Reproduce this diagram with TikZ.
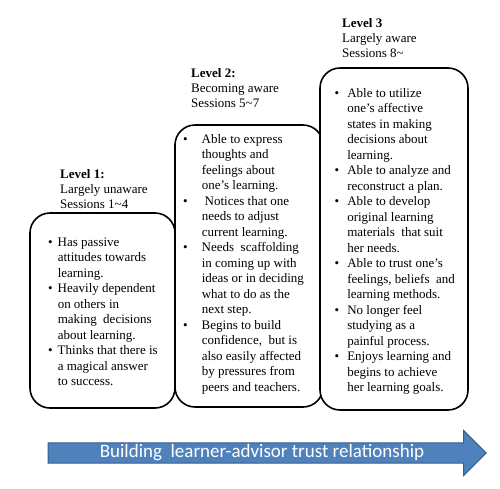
\documentclass[tikz,border=0pt]{standalone}
\usepackage{fontspec}
\setmainfont{Liberation Serif}
\newfontfamily\calibri{Carlito}
\usetikzlibrary{positioning,shapes.arrows}

\definecolor{arrowblue}{HTML}{4F81BD}
\definecolor{arrowline}{HTML}{385D8A}
\newcommand{\lvfont}{\fontsize{13}{15.5}\selectfont}

\begin{document}
\begin{tikzpicture}[x=1pt,y=-1pt,
    lvbox/.style={draw,line width=1.6pt,rounded corners=20pt,fill=white,inner sep=0pt},
    lvtitle/.style={anchor=north west,align=left,inner sep=0pt,font=\fontsize{13}{15}\selectfont},
    lvlist/.style={anchor=north west,inner sep=0pt,font=\lvfont},
    trustarrow/.style={single arrow,draw=arrowline,fill=arrowblue,line width=1pt,
      minimum height=438pt,minimum width=45pt,single arrow head extend=11.5pt,
      inner sep=1pt,text height=12pt,text depth=4pt,text=white,
      font=\calibri\fontsize{19}{22}\selectfont}]

  \useasboundingbox (0,0) rectangle (500,488);

  % the three levels
  \node[lvbox,minimum width=145pt,minimum height=195pt] (box1) at (102.5,310.5) {};
  \node[lvbox,minimum width=148pt,minimum height=282pt] (box2) at (249,266) {};
  \node[lvbox,minimum width=148pt,minimum height=342pt] (box3) at (394,239) {};

  \node[lvtitle] (title1) at (60,169) {\textbf{Level 1:}\\Largely unaware\\Sessions 1\textasciitilde4};
  \node[lvtitle] (title2) at (191,68) {\textbf{Level 2:}\\Becoming aware\\Sessions 5\textasciitilde7};
  \node[lvtitle] (title3) at (342,18) {\textbf{Level 3}\\Largely aware\\Sessions 8\textasciitilde};

  \node[lvlist] (list1) at (48,235) {\begin{tabular}{@{}l@{\hspace{5pt}}l@{}}
    \textbullet & Has passive\\
     & attitudes towards\\
     & learning.\\
    \textbullet & Heavily dependent\\
     & on others in\\
     & making\ \ decisions\\
     & about learning.\\
    \textbullet & Thinks that there is\\
     & a magical answer\\
     & to success.
  \end{tabular}};

  \node[lvlist] (list2) at (183,132) {\begin{tabular}{@{}l@{\hspace{14pt}}l@{}}
    \textbullet & Able to express\\
     & thoughts and\\
     & feelings about\\
     & one's learning.\\
    \textbullet & \hspace{3pt}Notices that one\\
     & needs to adjust\\
     & current learning.\\
    \textbullet & Needs\ \ scaffolding\\
     & in coming up with\\
     & ideas or in deciding\\
     & what to do as the\\
     & next step.\\
    \textbullet & Begins to build\\
     & confidence,\ \ but is\\
     & also easily affected\\
     & by pressures from\\
     & peers and teachers.
  \end{tabular}};

  \node[lvlist] (list3) at (334.5,86) {\begin{tabular}{@{}l@{\hspace{8pt}}l@{}}
    \textbullet & Able to utilize\\
     & one's affective\\
     & states in making\\
     & decisions about\\
     & learning.\\
    \textbullet & Able to analyze and\\
     & reconstruct a plan.\\
    \textbullet & Able to develop\\
     & original learning\\
     & materials\ \ that suit\\
     & her needs.\\
    \textbullet & Able to trust one's\\
     & feelings, beliefs\ \ and\\
     & learning methods.\\
    \textbullet & No longer feel\\
     & studying as a\\
     & painful process.\\
    \textbullet & Enjoys learning and\\
     & begins to achieve\\
     & her learning goals.
  \end{tabular}};

  % trust arrow
  \node[trustarrow] (trust) at (262,453) {Building\ \ learner-advisor trust relationship\hspace{10pt}};
\end{tikzpicture}
\end{document}
